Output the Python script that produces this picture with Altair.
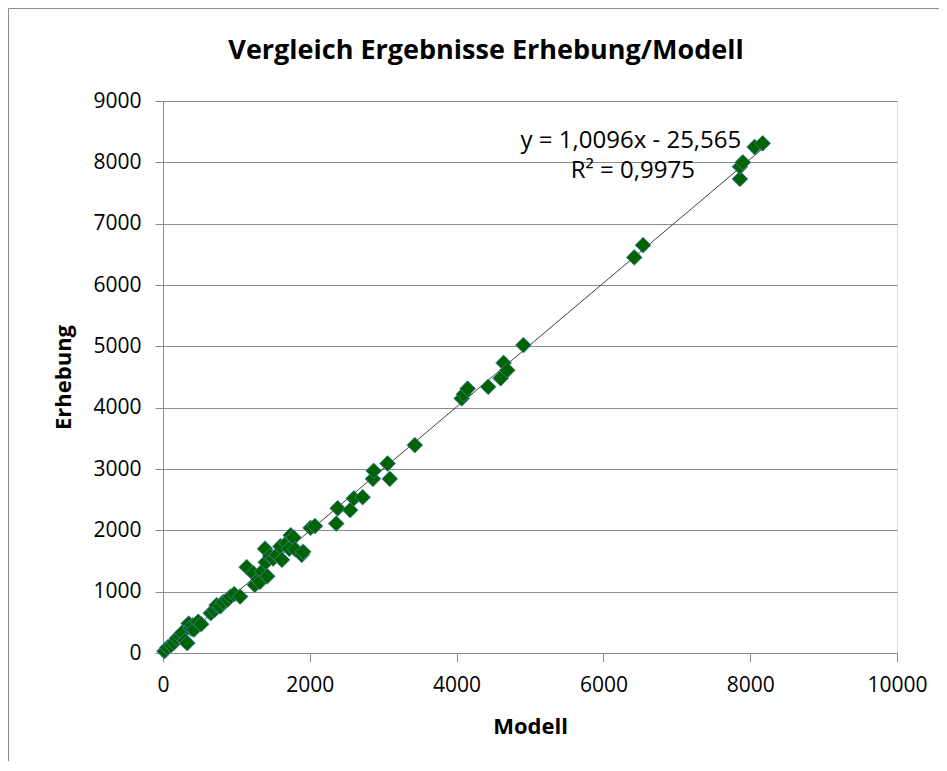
import altair as alt
import pandas as pd

# Data (Modell, Erhebung)
modell = [20, 60, 110, 150, 190, 230, 260, 300, 330, 350, 380, 400, 420, 480, 520,
          650, 700, 730, 780, 820, 880, 920, 970, 1050, 1140, 1230, 1250, 1300, 1320,
          1350, 1390, 1400, 1420, 1460, 1500, 1550, 1600, 1620, 1680, 1720, 1740, 1780,
          1800, 1890, 1910, 2010, 2070, 2360, 2380, 2550, 2600, 2720, 2860, 2870, 3060,
          3090, 3430, 4070, 4100, 4150, 4430, 4600, 4640, 4690, 4910, 6420, 6540, 7860,
          7860, 7900, 8060, 8170]
erhebung = [30, 90, 130, 170, 240, 280, 330, 200, 160, 480, 400, 450, 380, 510, 470,
            650, 700, 780, 760, 830, 870, 920, 960, 920, 1400, 1300, 1110, 1200, 1160,
            1330, 1700, 1480, 1250, 1580, 1540, 1600, 1740, 1520, 1790, 1700, 1920, 1880,
            1690, 1600, 1650, 2040, 2070, 2110, 2360, 2330, 2520, 2540, 2840, 2970, 3090,
            2840, 3390, 4150, 4220, 4310, 4340, 4480, 4730, 4610, 5020, 6450, 6650, 7730,
            7930, 8000, 8250, 8310]

slope = 1.0096
intercept = -25.565
eq_text = ["y = 1,0096x - 25,565", "R² = 0,9975"]
title_text = "Vergleich Ergebnisse Erhebung/Modell"
x_ticks = [0, 2000, 4000, 6000, 8000, 10000]
y_ticks = [0, 1000, 2000, 3000, 4000, 5000, 6000, 7000, 8000, 9000]

df = pd.DataFrame({"Modell": modell, "Erhebung": erhebung})

FONT = "Open Sans"
GRID = "#8c8c8c"

x_scale = alt.Scale(domain=[0, 10000], nice=False, zero=True)
y_scale = alt.Scale(domain=[0, 9000], nice=False, zero=True)

x_axis = alt.Axis(
    title="Modell", values=x_ticks, grid=False, format="d", labelFlush=False,
    domainColor=GRID, tickColor=GRID, tickSize=9, labelPadding=12,
    labelFontSize=21, labelColor="black", labelFont=FONT,
    titleFont=FONT, titleFontSize=22, titleFontWeight="bold", titleColor="black",
    titlePadding=21,
)
y_axis = alt.Axis(
    title="Erhebung", values=y_ticks, grid=True, gridColor=GRID, format="d",
    domainColor=GRID, tickColor=GRID, tickSize=8, labelPadding=14,
    labelFontSize=21, labelColor="black", labelFont=FONT,
    titleFont=FONT, titleFontSize=22, titleFontWeight="bold", titleColor="black",
    titlePadding=17,
)

base = alt.Chart(df)

trend = base.transform_calculate(
    fit=f"{slope} * datum.Modell + ({intercept})"
).mark_line(color="#404040", strokeWidth=1).encode(
    x=alt.X("Modell:Q", scale=x_scale, axis=x_axis),
    y=alt.Y("fit:Q", scale=y_scale, axis=y_axis),
)

points = base.mark_point(
    shape="diamond", filled=True, fill="#006400", stroke="#4a7ebb",
    strokeWidth=0.8, size=250, opacity=1,
).encode(
    x=alt.X("Modell:Q", scale=x_scale),
    y=alt.Y("Erhebung:Q", scale=y_scale),
)

eq1 = alt.Chart().mark_text(font=FONT, fontSize=24, color="black", align="center",
                            baseline="middle").encode(
    x=alt.datum(6375, scale=x_scale), y=alt.datum(8350, scale=y_scale),
    text=alt.value(eq_text[0]),
)
eq2 = alt.Chart().mark_text(font=FONT, fontSize=24, color="black", align="center",
                            baseline="middle").encode(
    x=alt.datum(6400, scale=x_scale), y=alt.datum(7860, scale=y_scale),
    text=alt.value(eq_text[1]),
)

title = alt.Chart().mark_text(font=FONT, fontSize=27, fontWeight="bold", color="black",
                              align="center", baseline="middle").encode(
    x=alt.value(323), y=alt.value(-50), text=alt.value(title_text))

frame_v = alt.Chart().mark_rule(color=GRID, strokeWidth=1).encode(
    x=alt.value(-154.5), y=alt.value(-92.5), y2=alt.value(660))
frame_h = alt.Chart().mark_rule(color=GRID, strokeWidth=1).encode(
    x=alt.value(-154.5), x2=alt.value(800), y=alt.value(-92.5))

chart = alt.layer(frame_v, frame_h, title, trend, points, eq1, eq2).properties(
    width=734, height=552,
    padding={"left": 155, "top": 93, "right": 42, "bottom": 108},
    autosize=alt.AutoSizeParams(type="none"),
).configure_view(stroke=None).configure(background="white")

chart.save("out.html", embed_options={"renderer": "svg", "actions": False})
